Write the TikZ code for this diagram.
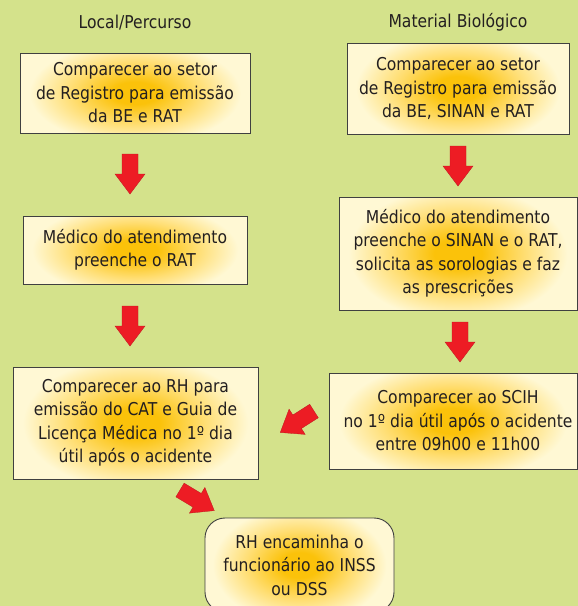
\documentclass[tikz,border=0pt]{standalone}
\usepackage{fontspec}
\setmainfont[FakeStretch=0.88]{DejaVu Sans}
\definecolor{bggreen}{RGB}{212,226,139}
\definecolor{bgold}{RGB}{251,194,10}
\definecolor{bmid}{RGB}{255,222,115}
\definecolor{bcream}{RGB}{255,248,212}
\definecolor{txt}{RGB}{35,31,32}
\definecolor{arrred}{RGB}{237,28,36}
\pgfdeclareradialshading{boxshade}{\pgfpoint{0bp}{0bp}}{color(0bp)=(bgold); color(5bp)=(bgold); color(14bp)=(bmid); color(23bp)=(bcream); color(50bp)=(bcream)}
\begin{document}
\begin{tikzpicture}[x=1pt,y=-1pt,
  every node/.style={font=\fontsize{17.7}{23.5}\selectfont, text=txt},
  box/.style={draw=black!75, line width=0.9pt, align=center, inner sep=0pt,
    path picture={\shade[shading=boxshade] ([yshift=-16pt]path picture bounding box.south west) rectangle ([yshift=16pt]path picture bounding box.north east);}},
  hdr/.style={inner sep=0pt},
  plain/.style={align=center, inner sep=0pt},
  pics/bigarrow/.style={code={\fill[arrred, draw=arrred!80!black, line width=0.3pt] (0,-8) -- (20,-8) -- (20,-15) -- (40,0) -- (20,15) -- (20,8) -- (0,8) -- cycle;}}]
\useasboundingbox (0,0) rectangle (578,606);
\fill[bggreen] (0,0) rectangle (578,606);
\clip (0,0) rectangle (578,606);

\node[hdr] (h1) at (135,23) {Local/Percurso};
\node[hdr] (h2) at (458,22) {Material Biológico};

\node[box, minimum width=230pt, minimum height=80pt] (l1) at (135,93) {Comparecer ao setor\\de Registro para emissão\\da BE e RAT};
\node[box, minimum width=222pt, minimum height=91pt] (r1) at (458,88.5) {Comparecer ao setor\\de Registro para emissão\\da BE, SINAN e RAT};
\node[box, minimum width=224pt, minimum height=68pt] (l2) at (135,250) {Médico do atendimento\\preenche o RAT};
\node[box, minimum width=238pt, minimum height=113pt] (r2) at (458,253.5) {Médico do atendimento\\preenche o SINAN e o RAT,\\solicita as sorologias e faz\\as prescrições};
\node[box, minimum width=245pt, minimum height=112pt] (l3) at (135.5,423) {Comparecer ao RH para\\emissão do CAT e Guia de\\Licença Médica no 1º dia\\útil após o acidente};
\node[box, minimum width=248pt, minimum height=96pt] (r3) at (453,421) {};
\node[plain] (r3t) at (458,421) {Comparecer ao SCIH\\no 1º dia útil após o acidente\\entre 09h00 e 11h00};
\node[box, rounded corners=20pt, minimum width=189pt, minimum height=94pt] (b) at (299.5,565) {RH encaminha o\\funcionário ao INSS\\ou DSS};

\pic[rotate=-90] at (130,154) {bigarrow};
\pic[rotate=-90] at (130,306) {bigarrow};
\pic[rotate=-90] at (458,146) {bigarrow};
\pic[rotate=-90] at (460,322) {bigarrow};
\pic[rotate=212.5] at (314,411) {bigarrow};
\pic[rotate=-31] at (180,490) {bigarrow};
\end{tikzpicture}
\end{document}
